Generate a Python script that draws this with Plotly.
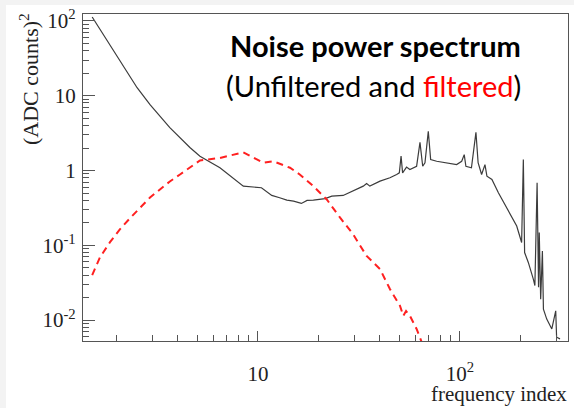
import plotly.graph_objects as go
import numpy as np

# ---- data ----
unf_x = [1.51, 2.52, 2.92, 3.66, 4.6, 5.16, 6.48, 8.46, 10.4, 11.7, 12.8, 13.9, 15.0, 16.4, 17.5,
         18.8, 21.5, 23.2, 26.4, 29.6, 33.2, 34.5, 35.8, 40.2, 45.0, 48.6, 50.1, 51.1, 52.0, 54.4,
         56.5, 61.0, 63.4, 65.4, 67.1, 69.7, 71.6, 76.7, 86.0, 96.3, 102, 105, 107, 114, 120,
         123, 128, 133, 136, 144, 155, 167, 180, 191, 202, 206, 209, 218, 231, 235, 241, 245,
         247, 251, 256, 259, 269, 285, 298, 301, 313]
unf_y = [113, 12.8, 7.6, 3.74, 2.03, 1.55, 1.09, 0.618, 0.588, 0.464, 0.432, 0.402, 0.39, 0.363, 0.398,
         0.402, 0.42, 0.454, 0.464, 0.53, 0.618, 0.671, 0.618, 0.72, 0.80, 0.885, 0.93, 1.56, 0.93, 1.11,
         1.03, 1.14, 2.38, 1.14, 1.27, 3.34, 1.40, 1.33, 1.27, 1.20, 1.33, 1.63, 1.14, 1.09, 3.24,
         1.27, 0.885, 1.20, 0.84, 0.76, 0.505, 0.352, 0.246, 0.181, 0.109, 1.40, 0.08, 0.059, 0.035, 0.029, 0.685, 0.0275,
         0.148, 0.019, 0.084, 0.014, 0.0103, 0.0076, 0.0133, 0.0059, 0.0056]

filt_x = [1.51, 1.65, 1.85, 2.07, 2.32, 2.61, 2.92, 3.27, 3.66, 4.11, 4.6, 5.16, 6.48, 8.46, 10.6,
          11.9, 14.4, 16.1, 18.8, 21.9, 25.5, 29.6, 34.5, 40.2, 45.0, 50.5, 52.4, 54.1, 56.5, 61.0,
          64.6, 65.9]
filt_y = [0.04, 0.069, 0.11, 0.163, 0.229, 0.321, 0.436, 0.558, 0.713, 0.885, 1.10, 1.36, 1.47, 1.75, 1.27,
          1.33, 1.09, 0.885, 0.618, 0.41, 0.234, 0.14, 0.072, 0.048, 0.026, 0.0155, 0.0114, 0.0132, 0.0114, 0.0076,
          0.0051, 0.0041]

y_tickvals = [0.01, 0.1, 1, 10, 100]
y_ticktext = ["10<sup>-2</sup>", "10<sup>-1</sup>", "1", "10", "10<sup>2</sup>"]
x_tickvals = [10, 100]
x_ticktext = ["10", "10<sup>2</sup>"]

W, H = 574, 408
L, R, T, B = 83, 6, 14, 67

fig = go.Figure()
fig.add_trace(go.Scatter(x=unf_x, y=unf_y, mode="lines",
                         line=dict(color="#3c3c3c", width=1.2), showlegend=False))
fig.add_trace(go.Scatter(x=filt_x, y=filt_y, mode="lines",
                         line=dict(color="#ff2020", width=2, dash="7px,5px"), showlegend=False))

serif = "Liberation Serif, Times New Roman, serif"
axis_color = "#555555"

y_minor = [m * 10.0 ** k for k in range(-3, 3) for m in range(2, 10)]
x_minor = [m * 10.0 ** k for k in range(0, 3) for m in range(2, 10)]

fig.update_xaxes(type="log", range=[np.log10(1.36), 2.535],
                 showgrid=False, zeroline=False,
                 showline=True, linecolor=axis_color, linewidth=1.2, mirror=True,
                 ticks="inside", ticklen=10, tickwidth=1, tickcolor=axis_color,
                 tickmode="array", tickvals=x_tickvals, ticktext=x_ticktext,
                 tickfont=dict(family=serif, size=21, color="#222"),
                 ticklabelstandoff=14,
                 minor=dict(ticks="inside", ticklen=6, tickwidth=1, tickcolor=axis_color,
                            tickmode="array", tickvals=x_minor, showgrid=False))
fig.update_yaxes(type="log", range=[-2.28, 2.093],
                 showgrid=False, zeroline=False,
                 showline=True, linecolor=axis_color, linewidth=1.2, mirror=True,
                 ticks="inside", ticklen=12, tickwidth=1, tickcolor=axis_color,
                 tickmode="array", tickvals=y_tickvals, ticktext=y_ticktext,
                 tickfont=dict(family=serif, size=21, color="#222"),
                 ticklabelstandoff=2,
                 minor=dict(ticks="inside", ticklen=6, tickwidth=1, tickcolor=axis_color,
                            tickmode="array", tickvals=y_minor, showgrid=False))

pw = W - L - R
ph = H - T - B

def px_x(p):
    return (p - L) / pw

def px_y(p):
    return (H - B - p) / ph

annotations = [
    dict(text="<b>Noise power spectrum</b>", x=px_x(375), y=px_y(45), xref="paper", yref="paper",
         showarrow=False, xanchor="center", yanchor="middle",
         font=dict(family="Lato, Open Sans, sans-serif", size=29, color="black")),
    dict(text="(Unfiltered and <span style='color:#ff0000'>filtered</span>)", x=px_x(373), y=px_y(85),
         xref="paper", yref="paper", showarrow=False, xanchor="center", yanchor="middle",
         font=dict(family="Lato, Open Sans, sans-serif", size=29, color="black")),
    dict(text="frequency index", x=px_x(569), y=px_y(394), xref="paper", yref="paper",
         showarrow=False, xanchor="right", yanchor="middle",
         font=dict(family=serif, size=21, color="#222")),
    dict(text="(ADC counts)<sup>2</sup>", x=px_x(29), y=px_y(11), xref="paper", yref="paper",
         showarrow=False, xanchor="center", yanchor="top", textangle=-90,
         font=dict(family=serif, size=22, color="#222")),
]

shapes = [
    dict(type="rect", xref="paper", yref="paper", x0=px_x(0), x1=px_x(W), y0=px_y(5), y1=px_y(0),
         fillcolor="#f3f3f3", line=dict(width=0), layer="below"),
    dict(type="rect", xref="paper", yref="paper", x0=px_x(0), x1=px_x(6), y0=px_y(H), y1=px_y(0),
         fillcolor="#f3f3f3", line=dict(width=0), layer="below"),
]

fig.update_layout(width=W, height=H, margin=dict(l=L, r=R, t=T, b=B),
                  paper_bgcolor="white", plot_bgcolor="white",
                  annotations=annotations, shapes=shapes)

fig.write_html("out.html")
